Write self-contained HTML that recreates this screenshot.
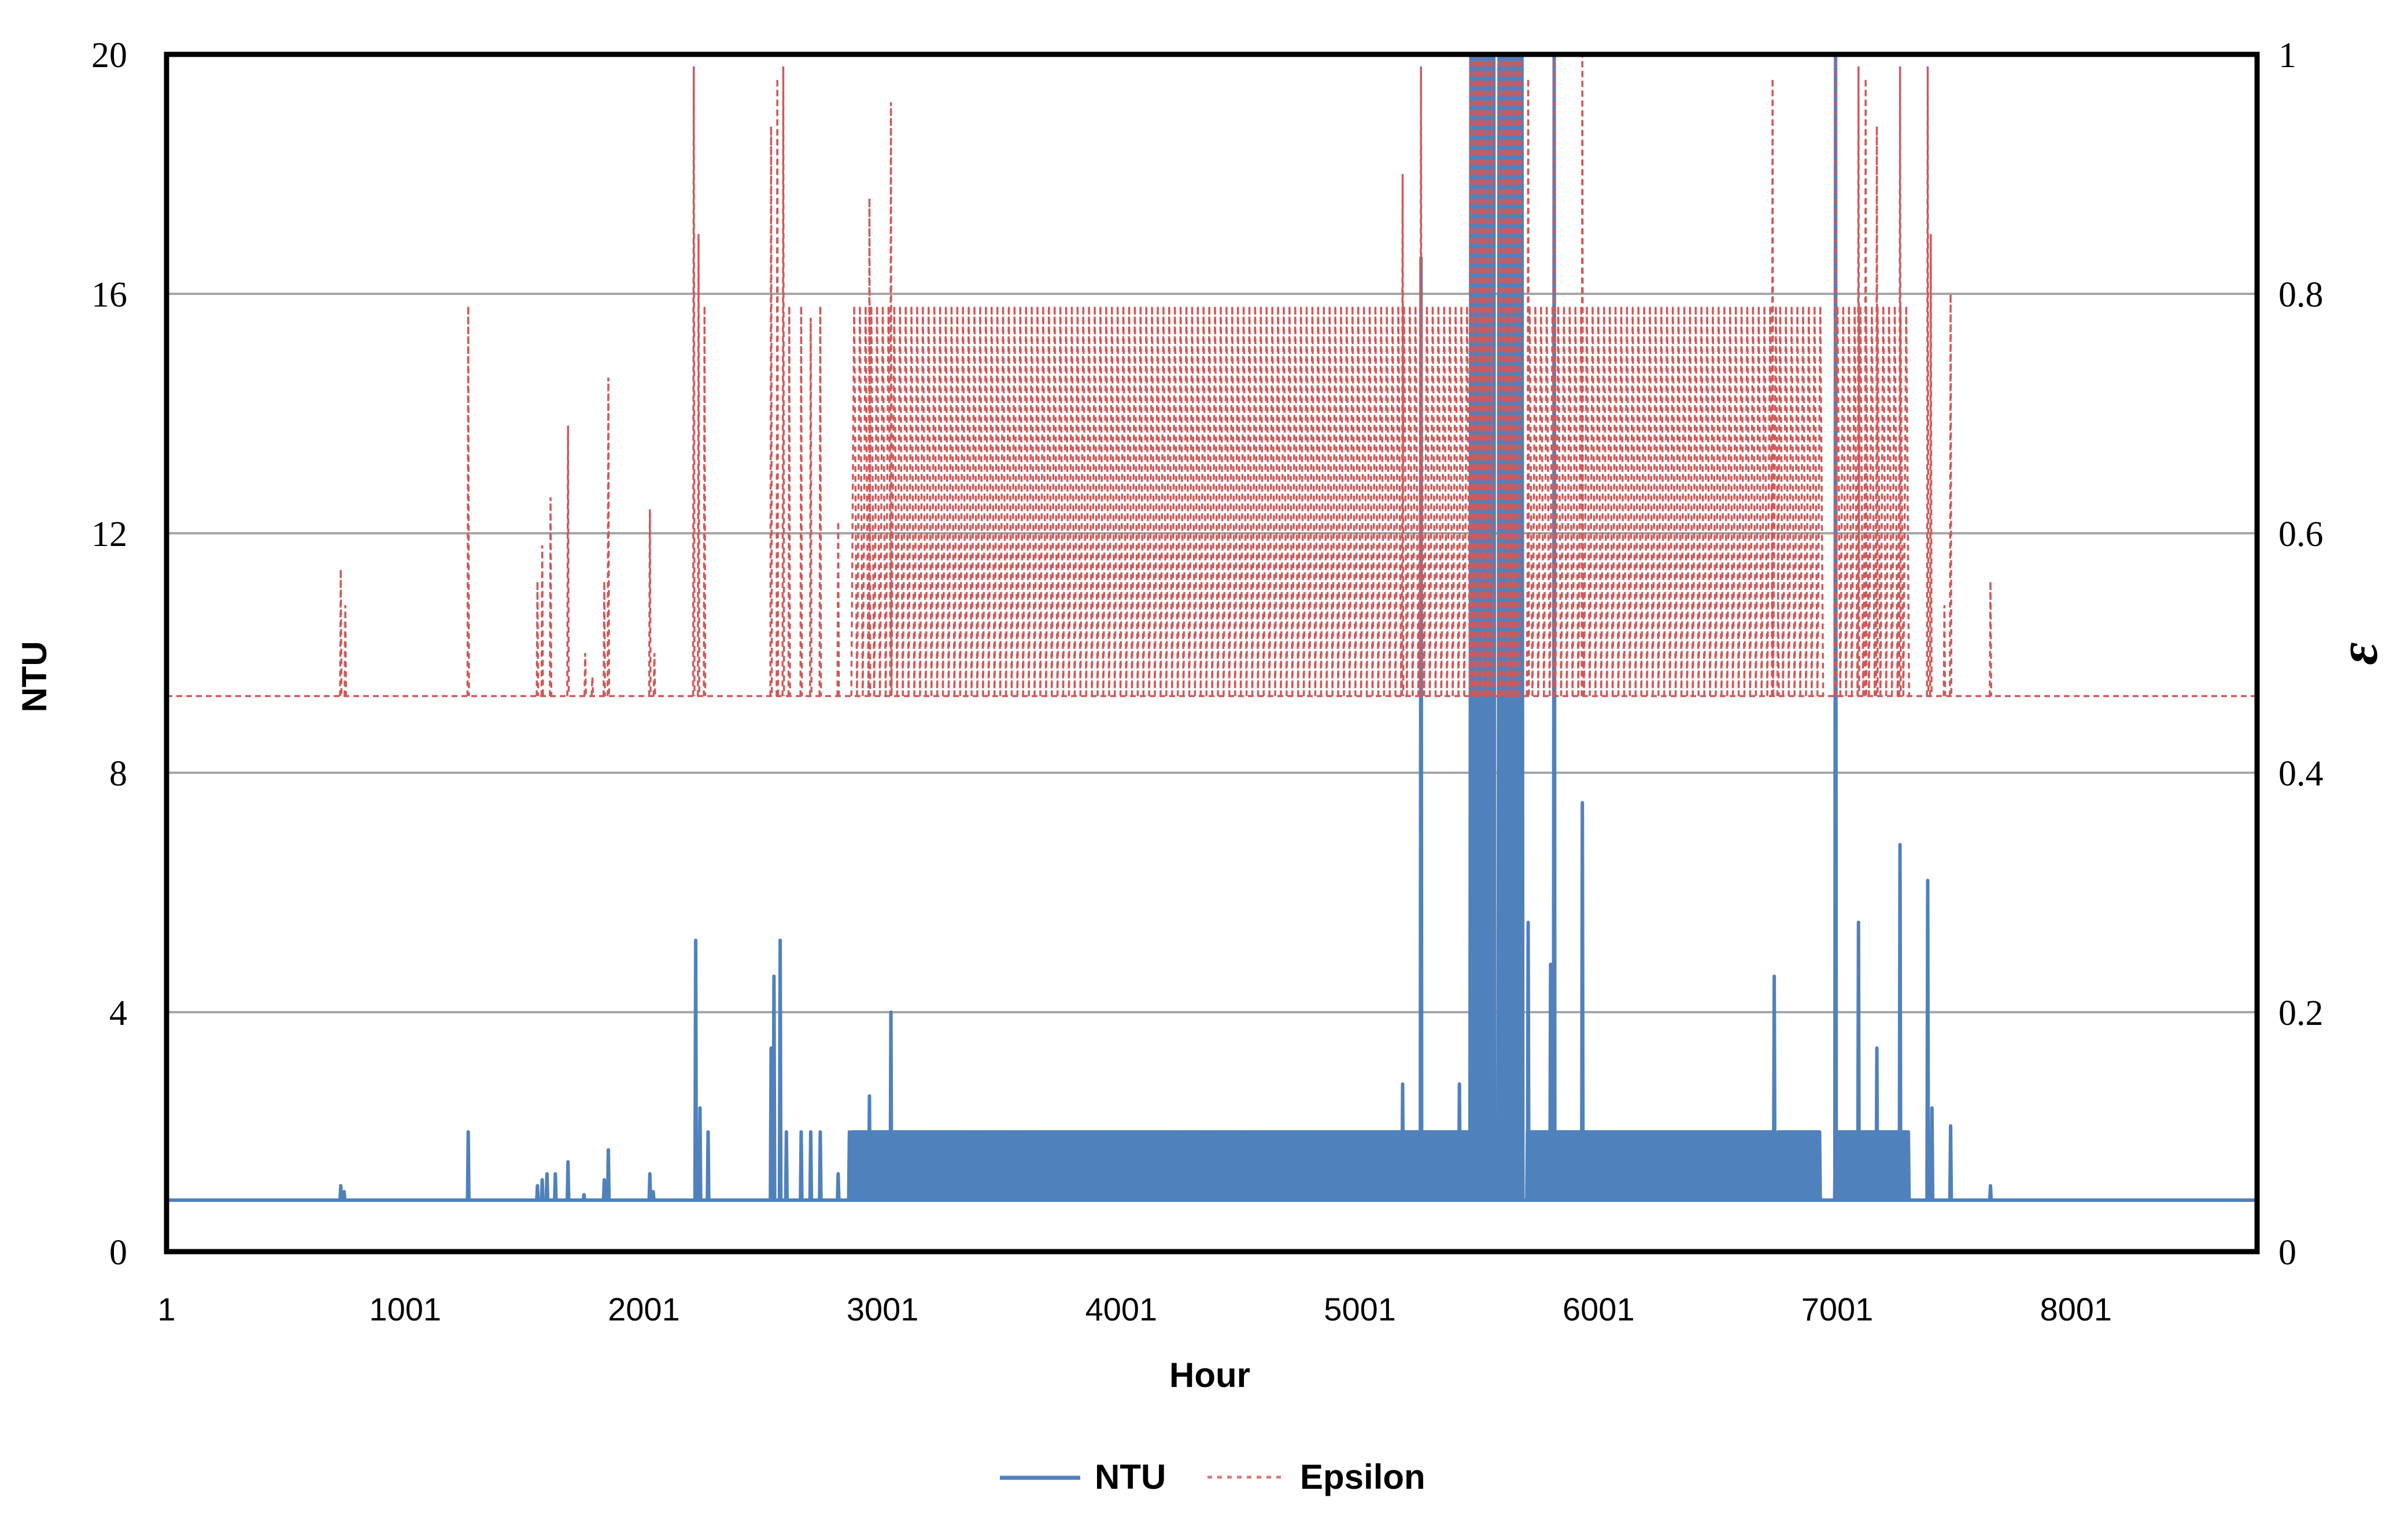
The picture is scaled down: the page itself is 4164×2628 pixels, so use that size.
<!DOCTYPE html>
<html><head><meta charset="utf-8">
<style>
html,body{margin:0;padding:0;background:#fff;}
svg{display:block;}
.tl{font-family:"Liberation Serif",serif;font-size:62px;fill:#000;}
.xl{font-family:"Liberation Sans",sans-serif;font-size:56px;fill:#000;}
.tt{font-family:"Liberation Sans",sans-serif;font-weight:bold;font-size:60px;fill:#000;}
</style></head>
<body>
<svg id="chart" width="4164" height="2628" viewBox="0 0 4164 2628" xmlns="http://www.w3.org/2000/svg">
<g id="grid"></g>
<g id="series"></g>
<rect x="288" y="94" width="3615" height="2070" fill="none" stroke="#000" stroke-width="9"/>
<g id="axes"></g>
<text x="80" y="1170" class="tt" transform="rotate(-90 80 1170)" text-anchor="middle">NTU</text>
<text x="4110" y="1130" font-family="Liberation Serif,serif" font-style="italic" font-weight="bold" font-size="96" text-anchor="middle" transform="rotate(-90 4110 1130)">ε</text>
<text x="2092" y="2398" class="tt" text-anchor="middle">Hour</text>
<g>
<line x1="1729" y1="2555" x2="1868" y2="2555" stroke="#4f81bd" stroke-width="7"/>
<text x="1893" y="2574" class="tt" font-size="56">NTU</text>
<line x1="2088" y1="2554" x2="2218" y2="2554" stroke="#d9797a" stroke-width="5" stroke-dasharray="8 9"/>
<text x="2248" y="2574" class="tt" font-size="56">Epsilon</text>
</g>
</svg>
<script>
// ---- data ----
const xTicks = [1,1001,2001,3001,4001,5001,6001,7001,8001];
const yLeftTicks = [0,4,8,12,16,20];
const yRightTicks = ["0","0.2","0.4","0.6","0.8","1"];
const ntuBase = 0.86;
const epsBase = 0.464;
// dense operating blocks [startHour, endHour]
const blockRanges = [[2870,5470],[5490,5560],[5600,5640],[5700,6740],[6750,6930],[6990,7300]];
const blockNTU = [2.0,2.0,2.0,2.0,2.0,2.0];
const blockEps = [0.79,0.79,0.79,0.79,0.79,0.79];
// high block near 5500
const hiRanges = [[5462,5560],[5580,5680]];
const hiNTU = [20,20];
const hiEps = [1.0,1.0];
// isolated spikes
const ntuHours = [731,745,1265,1555,1575,1595,1630,1683,1750,1835,1852,2026,2040,2218,2236,2270,2534,2546,2572,2598,2660,2700,2740,2815,2862,2946,3036,5180,5257,5418,5706,5800,5815,5933,6737,6994,7090,7167,7264,7380,7398,7476,7643];
const ntuValues = [1.1,1.0,2.0,1.1,1.2,1.3,1.3,1.5,0.95,1.2,1.7,1.3,1.0,5.2,2.4,2.0,3.4,4.6,5.2,2.0,2.0,2.0,2.0,1.3,2.0,2.6,4.0,2.8,16.6,2.8,5.5,4.8,20,7.5,4.6,20,5.5,3.4,6.8,6.2,2.4,2.1,1.1];
const epsHours = [731,750,1265,1555,1575,1610,1683,1755,1785,1835,1852,2026,2045,2210,2230,2255,2534,2560,2585,2610,2660,2700,2740,2815,2946,3036,5180,5257,5706,5815,5933,6730,6994,7090,7120,7167,7264,7380,7393,7450,7476,7643];
const epsValues = [0.57,0.54,0.79,0.56,0.59,0.63,0.69,0.5,0.48,0.56,0.73,0.62,0.5,0.99,0.85,0.79,0.94,0.98,0.99,0.79,0.79,0.78,0.79,0.61,0.88,0.96,0.9,0.99,0.98,1.0,1.0,0.98,1.0,0.99,0.98,0.94,0.99,0.99,0.85,0.54,0.8,0.56];

// ---- scales ----
const X0=288,X1=3903,Y0=2164,Y1=94;
const xS=h=>X0+(h-1)/(8760-1)*(X1-X0);
const yL=v=>Y0-v/20*(Y0-Y1);
const yR=v=>Y0-v*(Y0-Y1);
const NS='http://www.w3.org/2000/svg';
const grid=document.getElementById('grid'),ser=document.getElementById('series'),axes=document.getElementById('axes');
function mk(tag,attrs,parent){const e=document.createElementNS(NS,tag);for(const k in attrs)e.setAttribute(k,attrs[k]);parent.appendChild(e);return e;}

yLeftTicks.forEach((t,i)=>{
  if(t>0&&t<20){const g=mk('line',{x1:X0,x2:X1,y1:yL(t),y2:yL(t),stroke:'#a6a6a6','stroke-width':4},grid);
  
  }
  const l=mk('text',{x:220,y:yL(t)+22,'text-anchor':'end',class:'tl'},axes);l.textContent=t;
  
  
  const r=mk('text',{x:3940,y:yR(i/5)+22,'text-anchor':'start',class:'tl'},axes);r.textContent=yRightTicks[i];
  
  
});
xTicks.forEach(t=>{
  const l=mk('text',{x:xS(t),y:2283,'text-anchor':'middle',class:'xl'},axes);l.textContent=t;
  
  
});

// epsilon path
let ep=`M${xS(1)},${yR(epsBase)} L${xS(8760)},${yR(epsBase)}`;
blockRanges.forEach((r,i)=>{for(let h=r[0];h<r[1];h+=24){ep+=` M${xS(h)},${yR(epsBase)} L${xS(h+12)},${yR(blockEps[i])} L${xS(h+24)},${yR(epsBase)}`;}});
hiRanges.forEach((r,i)=>{for(let h=r[0];h<r[1];h+=10){ep+=` M${xS(h)},${yR(epsBase)} L${xS(h+5)},${yR(hiEps[i])}`;}});
epsHours.forEach((h,i)=>{ep+=` M${xS(h-3)},${yR(epsBase)} L${xS(h)},${yR(epsValues[i])} L${xS(h+3)},${yR(epsBase)}`;});

// ntu path
let np=`M${xS(1)},${yL(ntuBase)} L${xS(8760)},${yL(ntuBase)}`;
blockRanges.forEach((r,i)=>{for(let h=r[0];h<r[1];h+=12){np+=` M${xS(h)},${yL(ntuBase)} L${xS(h+3)},${yL(blockNTU[i])} L${xS(h+9)},${yL(blockNTU[i])} L${xS(h+12)},${yL(ntuBase)}`;}});
hiRanges.forEach((r,i)=>{for(let h=r[0];h<r[1];h+=8){np+=` M${xS(h)},${yL(ntuBase)} L${xS(h+4)},${yL(hiNTU[i])} L${xS(h+8)},${yL(ntuBase)}`;}});
ntuHours.forEach((h,i)=>{np+=` M${xS(h-3)},${yL(ntuBase)} L${xS(h)},${yL(ntuValues[i])} L${xS(h+3)},${yL(ntuBase)}`;});

const n=mk('path',{d:np,fill:'none',stroke:'#4f81bd','stroke-width':6,'stroke-linejoin':'round'},ser);


const e=mk('path',{d:ep,fill:'none',stroke:'#d0595a','stroke-width':3.5,'stroke-dasharray':'10 7'},ser);


</script>
</body></html>
